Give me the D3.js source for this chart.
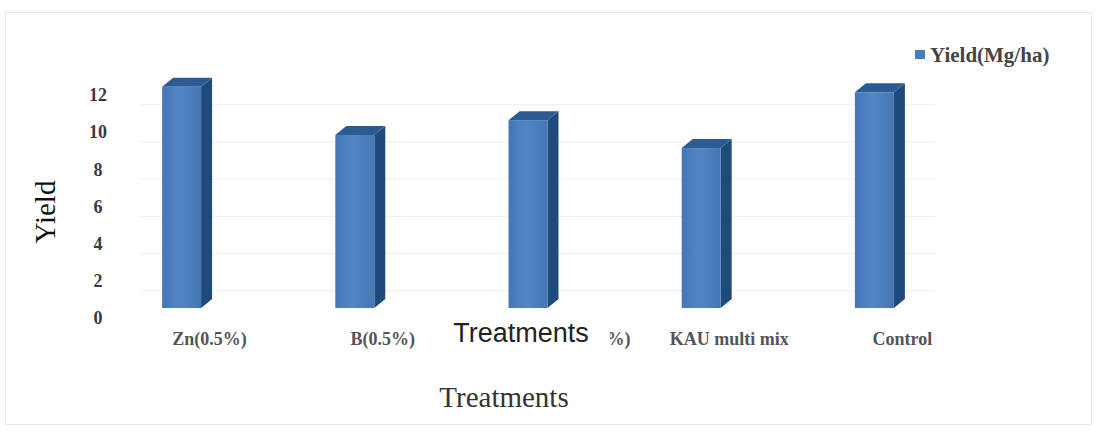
<!DOCTYPE html>
<html>
<head>
<meta charset="utf-8">
<script src="https://cdn.jsdelivr.net/npm/d3@7"></script>
<style>
  html, body { margin: 0; padding: 0; background: #ffffff; }
  svg { display: block; }
</style>
</head>
<body>
<svg id="chart" width="1097" height="436"></svg>
<script>
// Yield by micronutrient treatment
const categories = ["Zn(0.5%)", "B(0.5%)", "Zn(0.5%)+B(0.5%)", "KAU multi mix", "Control"];
const yieldValues = [11.9, 9.3, 10.1, 8.6, 11.6];
const yTicks = [0, 2, 4, 6, 8, 10, 12];
const seriesName = "Yield(Mg/ha)";

const svg = d3.select("#chart");
const W = 1097, H = 436;

// faint frame around the chart area
svg.append("rect")
  .attr("x", 5.5).attr("y", 12.5)
  .attr("width", W - 11).attr("height", H - 24)
  .attr("fill", "none").attr("stroke", "#e6e6e6").attr("stroke-width", 1);

const x = d3.scaleBand()
  .domain(categories)
  .range([95, 961])
  .paddingInner(0.775)
  .paddingOuter(0.3875);

const y = d3.scaleLinear().domain([0, 12]).range([308, 308 - 12 * 18.6]);

// 3D depth offsets
const dx = 11, dy = 9;

const defs = svg.append("defs");
// gradient for the bar fronts
const g = defs.append("linearGradient").attr("id", "front").attr("x1", "0").attr("x2", "1");
g.append("stop").attr("offset", "0").attr("stop-color", "#4577b8");
g.append("stop").attr("offset", "0.45").attr("stop-color", "#5186c4");
g.append("stop").attr("offset", "1").attr("stop-color", "#4576b4");

// the category row is hidden where the pasted axis title sits
const clip = defs.append("clipPath").attr("id", "labelClip");
clip.append("rect").attr("x", 0).attr("y", 0).attr("width", 440).attr("height", H);
clip.append("rect").attr("x", 610).attr("y", 0).attr("width", W - 610).attr("height", H);

// back-wall gridlines
svg.append("g").selectAll("line")
  .data(yTicks.filter(v => v > 0))
  .join("line")
  .attr("x1", 140).attr("x2", 935)
  .attr("y1", d => y(d) + 20).attr("y2", d => y(d) + 20)
  .attr("stroke", "#ededed").attr("stroke-width", 1);

// y tick labels
svg.append("g").selectAll("text")
  .data(yTicks)
  .join("text")
  .attr("x", 98)
  .attr("y", d => y(d) + 10)
  .attr("dy", "0.35em")
  .attr("text-anchor", "middle")
  .attr("font-family", "Liberation Serif, Times New Roman, serif")
  .attr("font-weight", "bold")
  .attr("font-size", 18)
  .attr("fill", "#3a3a3a")
  .text(d => d);

// bars
const bars = svg.append("g").selectAll("g")
  .data(categories.map((c, i) => ({ c, v: yieldValues[i] })))
  .join("g");

bars.each(function(d) {
  const gsel = d3.select(this);
  const x0 = x(d.c), x1 = x0 + x.bandwidth();
  const yt = y(d.v), yb = y(0);
  // side face
  gsel.append("path")
    .attr("d", `M${x1},${yt}L${x1 + dx},${yt - dy}L${x1 + dx},${yb - dy}L${x1},${yb}Z`)
    .attr("fill", "#1e4a7c");
  // top face
  gsel.append("path")
    .attr("d", `M${x0},${yt}L${x0 + dx},${yt - dy}L${x1 + dx},${yt - dy}L${x1},${yt}Z`)
    .attr("fill", "#2c5b93");
  // front face
  gsel.append("rect")
    .attr("x", x0).attr("y", yt)
    .attr("width", x.bandwidth()).attr("height", yb - yt)
    .attr("fill", "url(#front)");
});

// category labels
svg.append("g")
  .attr("clip-path", "url(#labelClip)")
  .selectAll("text")
  .data(categories)
  .join("text")
  .attr("x", d => x(d) + x.bandwidth() / 2 + 28)
  .attr("y", 345)
  .attr("text-anchor", "middle")
  .attr("font-family", "Liberation Serif, Times New Roman, serif")
  .attr("font-weight", "bold")
  .attr("font-size", 18)
  .attr("fill", "#555")
  .text(d => d);

// pasted-over axis title
svg.append("text")
  .attr("x", 521).attr("y", 342)
  .attr("text-anchor", "middle")
  .attr("font-family", "Liberation Sans, Arial, sans-serif")
  .attr("font-size", 27)
  .attr("fill", "#222")
  .text("Treatments");

// axis titles
svg.append("text")
  .attr("transform", "translate(55,212) rotate(-90)")
  .attr("text-anchor", "middle")
  .attr("font-family", "Liberation Serif, Times New Roman, serif")
  .attr("font-size", 29)
  .attr("fill", "#111")
  .text("Yield");

svg.append("text")
  .attr("x", 504).attr("y", 407)
  .attr("text-anchor", "middle")
  .attr("font-family", "Liberation Serif, Times New Roman, serif")
  .attr("font-size", 29)
  .attr("fill", "#333")
  .text("Treatments");

// legend
const lg = svg.append("g");
lg.append("rect")
  .attr("x", 915).attr("y", 50).attr("width", 10).attr("height", 9)
  .attr("fill", "#4a7dbd");
lg.append("text")
  .attr("x", 930).attr("y", 62)
  .attr("font-family", "Liberation Serif, Times New Roman, serif")
  .attr("font-weight", "bold")
  .attr("font-size", 21)
  .attr("fill", "#444")
  .text(seriesName);
</script>
</body>
</html>
